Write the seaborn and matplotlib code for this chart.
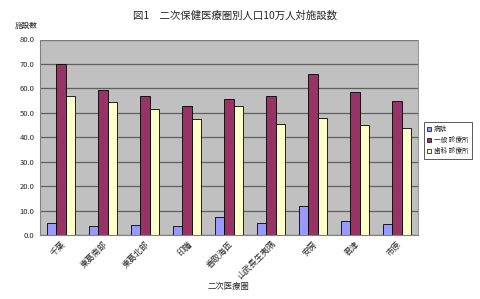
import matplotlib
matplotlib.use("Agg")
import matplotlib.pyplot as plt
import seaborn as sns
import pandas as pd

regions = ["千葉", "東葛南部", "東葛北部", "印旛", "香取海匝", "山武長生夷隅", "安房", "君津", "市原"]
series = ["病院", "一般 診療所", "歯科 診療所"]
hospital = [4.9, 3.7, 4.1, 3.7, 7.2, 4.9, 11.7, 5.6, 4.4]
general = [70.0, 59.4, 56.8, 52.6, 55.6, 56.8, 65.7, 58.7, 54.9]
dental = [56.8, 54.4, 51.5, 47.5, 52.7, 45.4, 48.0, 45.0, 43.9]
yticks = [0, 10, 20, 30, 40, 50, 60, 70, 80]

rows = []
for i, r in enumerate(regions):
    rows.append((r, series[0], hospital[i]))
    rows.append((r, series[1], general[i]))
    rows.append((r, series[2], dental[i]))
df = pd.DataFrame(rows, columns=["region", "type", "value"])

sns.set_style("white")
plt.rcParams['font.family'] = ['Noto Sans CJK JP', 'DejaVu Sans']

fig = plt.figure(figsize=(4.8, 2.99), dpi=100)
ax = fig.add_axes([40/480, 1-235/299, 378/480, (235-39.5)/299])
palette = dict(zip(series, ["#9999FF", "#993366", "#FFFFCC"]))
sns.barplot(data=df, x="region", y="value", hue="type", palette=palette,
            width=0.68, gap=0, edgecolor="black", linewidth=0.6,
            saturation=1, ax=ax, errorbar=None, legend=True)
ax.set_facecolor("#C0C0C0")
ax.set_ylim(0, 80)
ax.set_xlim(-0.5, len(regions) - 0.5)
ax.set_yticks(yticks)
ax.set_yticklabels([f"{v:.1f}" for v in yticks], fontsize=5.5)
ax.yaxis.grid(True, color="#606060", linewidth=0.9)
ax.set_axisbelow(True)
ax.set_xticks(range(len(regions)))
ax.set_xticklabels(regions, rotation=45, ha="right", rotation_mode="anchor", fontsize=6)
ax.tick_params(axis="x", length=0, pad=3)
ax.tick_params(axis="y", length=2, pad=2)
for s in ["top", "right"]:
    ax.spines[s].set_color("#808080")
    ax.spines[s].set_linewidth(0.6)
for s in ["left", "bottom"]:
    ax.spines[s].set_color("#808080")
    ax.spines[s].set_linewidth(0.8)
ax.set_xlabel("")
ax.set_ylabel("")

handles, labels = ax.get_legend_handles_labels()
ax.get_legend().remove()
leg = fig.legend(handles, labels, loc="upper left",
                 bbox_to_anchor=(424/480, 1-122/299), fontsize=4.8,
                 frameon=True, fancybox=False, edgecolor="#404040", handlelength=0.6,
                 handleheight=0.6, borderpad=0.5, labelspacing=0.45, handletextpad=0.35,
                 framealpha=1, borderaxespad=0)
leg.get_frame().set_linewidth(0.6)
for h in leg.legend_handles:
    h.set_linewidth(0.5)

fig.text(235/480, 1-16/299, "図1　二次保健医療圏別人口10万人対施設数", ha="center", va="center", fontsize=7.5)
fig.text(15/480, 1-26/299, "施設数", ha="left", va="center", fontsize=5.5)
fig.text(228/480, 1-287/299, "二次医療圏", ha="center", va="center", fontsize=6)

fig.savefig("out.png", dpi=100)
